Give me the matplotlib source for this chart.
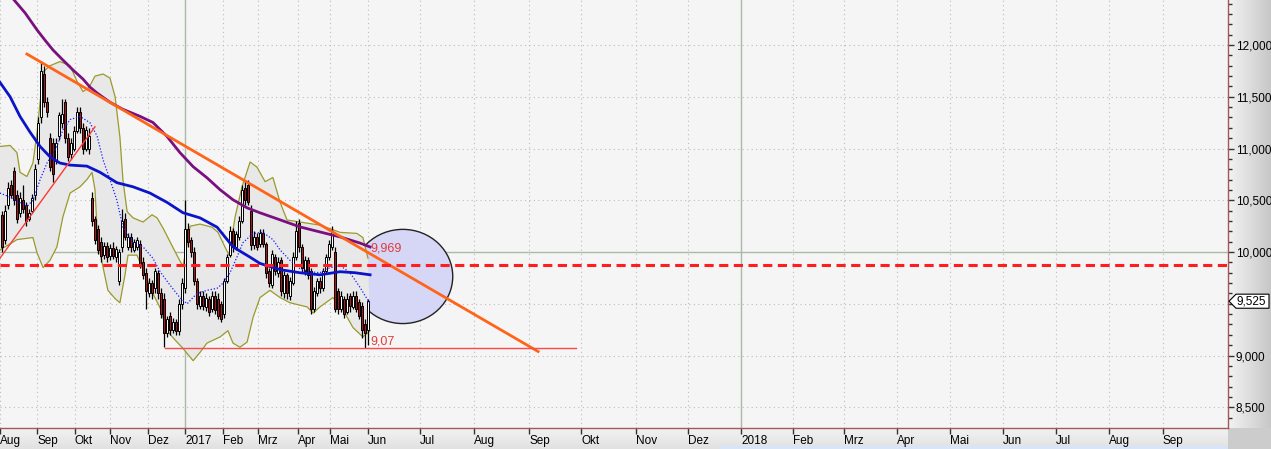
import matplotlib
matplotlib.use("Agg")
import matplotlib.pyplot as plt
import matplotlib.transforms as mtransforms
from matplotlib.patches import Ellipse, Polygon
import numpy as np

plt.rcParams['font.family'] = ['Liberation Sans', 'DejaVu Sans']

# --- Kursdaten (Tageskerzen, x = Handelstag-Index) ---
opens = [10.36, 10.12, 10.45, 10.65, 10.78, 10.55, 10.38, 10.50, 10.45, 10.32,
         10.40, 10.55, 10.90, 11.30, 11.72, 11.45, 11.10, 11.05, 10.88, 11.12,
         11.25, 11.45, 11.10, 10.95, 11.00, 11.17, 11.35, 11.20, 11.00, 11.00,
         10.52, 10.32, 10.22, 10.10, 9.97, 10.06, 9.96, 10.04, 9.95, 9.72,
         10.05, 10.32, 10.05, 10.15, 10.02, 10.05, 10.08, 9.90, 9.80, 9.60,
         9.70, 9.65, 9.80, 9.60, 9.55, 9.22, 9.38, 9.25, 9.32, 9.24,
         9.50, 9.65, 10.22, 10.12, 10.00, 9.72, 9.48, 9.58, 9.47, 9.55,
         9.45, 9.58, 9.55, 9.50, 9.40, 9.72, 9.97, 10.20, 10.05, 10.15,
         10.30, 10.62, 10.65, 10.40, 10.07, 10.15, 10.08, 10.18, 10.08, 9.82,
         9.68, 9.95, 9.80, 9.92, 9.60, 9.78, 9.58, 9.70, 9.95, 10.28,
         10.05, 9.82, 9.92, 9.82, 9.45, 9.60, 9.72, 9.65, 9.82, 9.95,
         10.05, 10.00, 9.62, 9.45, 9.55, 9.42, 9.58, 9.47, 9.58, 9.52,
         9.48, 9.30, 9.25]
highs = [10.40, 10.45, 10.68, 10.70, 10.82, 10.60, 10.58, 10.65, 10.48, 10.42,
         10.56, 10.85, 11.30, 11.85, 11.80, 11.50, 11.15, 11.10, 11.10, 11.35,
         11.48, 11.48, 11.15, 11.10, 11.22, 11.40, 11.40, 11.25, 11.22, 11.20,
         10.58, 10.35, 10.26, 10.15, 10.10, 10.10, 10.08, 10.10, 10.06, 10.03,
         10.42, 10.38, 10.18, 10.18, 10.13, 10.15, 10.12, 9.95, 9.85, 9.75,
         9.73, 9.85, 9.83, 9.65, 9.60, 9.38, 9.42, 9.36, 9.35, 9.55,
         9.75, 10.50, 10.28, 10.15, 10.05, 9.75, 9.62, 9.62, 9.60, 9.58,
         9.62, 9.62, 9.60, 9.53, 9.75, 9.98, 10.25, 10.23, 10.20, 10.35,
         10.65, 10.70, 10.70, 10.45, 10.20, 10.18, 10.22, 10.22, 10.10, 9.85,
         10.02, 9.98, 9.95, 9.95, 9.82, 9.80, 9.76, 10.00, 10.30, 10.32,
         10.08, 9.96, 9.95, 9.85, 9.66, 9.75, 9.76, 9.85, 9.98, 10.12,
         10.25, 10.05, 9.65, 9.62, 9.58, 9.60, 9.60, 9.62, 9.62, 9.55,
         9.52, 9.35, 9.55]
lows = [10.00, 10.08, 10.42, 10.52, 10.45, 10.28, 10.34, 10.38, 10.25, 10.30,
        10.38, 10.50, 10.85, 11.25, 11.40, 11.30, 10.78, 10.68, 10.85, 11.08,
        11.20, 11.05, 10.88, 10.90, 10.98, 11.15, 11.15, 10.95, 10.98, 10.95,
        10.25, 10.08, 9.98, 9.90, 9.93, 9.90, 9.92, 9.93, 9.90, 9.68,
        10.00, 10.12, 10.02, 10.00, 10.00, 10.02, 9.85, 9.74, 9.45, 9.57,
        9.55, 9.60, 9.55, 9.36, 9.08, 9.18, 9.20, 9.22, 9.20, 9.20,
        9.45, 9.60, 10.05, 9.95, 9.68, 9.45, 9.45, 9.44, 9.43, 9.38,
        9.42, 9.40, 9.35, 9.32, 9.36, 9.70, 9.95, 10.00, 10.02, 10.12,
        10.28, 10.45, 10.45, 10.02, 10.03, 10.02, 10.05, 10.05, 9.75, 9.66,
        9.65, 9.78, 9.76, 9.58, 9.56, 9.55, 9.54, 9.68, 9.92, 10.00,
        9.80, 9.78, 9.74, 9.40, 9.42, 9.58, 9.60, 9.62, 9.80, 9.92,
        10.02, 9.42, 9.40, 9.42, 9.36, 9.40, 9.42, 9.45, 9.42, 9.35,
        9.17, 9.07, 9.10]
closes = [10.05, 10.40, 10.62, 10.55, 10.50, 10.32, 10.52, 10.42, 10.30, 10.38,
          10.52, 10.80, 11.25, 11.75, 11.45, 11.35, 10.82, 10.75, 11.05, 11.32,
          11.33, 11.10, 10.92, 11.05, 11.17, 11.35, 11.20, 11.00, 11.18, 11.12,
          10.30, 10.12, 10.02, 9.96, 10.06, 9.95, 10.04, 9.96, 10.03, 10.00,
          10.30, 10.15, 10.15, 10.05, 10.10, 10.12, 9.88, 9.78, 9.62, 9.70,
          9.60, 9.82, 9.60, 9.40, 9.22, 9.35, 9.25, 9.32, 9.24, 9.50,
          9.70, 10.22, 10.10, 10.00, 9.72, 9.50, 9.58, 9.48, 9.56, 9.42,
          9.58, 9.44, 9.38, 9.35, 9.72, 9.95, 10.20, 10.05, 10.17, 10.30,
          10.60, 10.50, 10.48, 10.07, 10.15, 10.05, 10.18, 10.08, 9.80, 9.70,
          9.98, 9.82, 9.90, 9.62, 9.78, 9.60, 9.72, 9.95, 10.20, 10.05,
          9.85, 9.92, 9.78, 9.45, 9.62, 9.72, 9.65, 9.82, 9.95, 10.08,
          10.20, 9.45, 9.45, 9.58, 9.40, 9.55, 9.48, 9.58, 9.45, 9.38,
          9.25, 9.22, 9.525]

# --- Indikatoren ---
ma_blue_x = [-0.7, 2.7, 6, 9.3, 12.7, 16, 19.3, 22.7, 28.3, 32.7, 38.3, 43.7, 49.3,
             55, 60.3, 66, 71.7, 77, 82.7, 86, 92.7, 99.3, 106, 112.7, 117.7, 122.7]
ma_blue_y = [11.64, 11.50, 11.31, 11.16, 11.02, 10.92, 10.86, 10.84, 10.83, 10.77,
             10.67, 10.63, 10.57, 10.48, 10.38, 10.33, 10.24, 10.05, 9.95, 9.89,
             9.83, 9.80, 9.78, 9.81, 9.80, 9.78]

ma_purple_x = [3.3, 7.7, 11.7, 14.3, 17, 20.3, 23.7, 27, 29.3, 31.7, 36, 40.3, 46,
               50.3, 55, 59.3, 63.7, 68.3, 72.7, 77, 81.7, 86, 92.7, 99.3, 106,
               112.7, 119.3, 122.7]
ma_purple_y = [12.46, 12.31, 12.145, 12.048, 11.952, 11.855, 11.758, 11.671, 11.594,
               11.536, 11.447, 11.379, 11.311, 11.252, 11.117, 10.961, 10.825,
               10.718, 10.602, 10.505, 10.427, 10.379, 10.311, 10.243, 10.194,
               10.146, 10.087, 10.049]

ma_mid_x = [-0.7, 2.7, 8.3, 10.3, 12.7, 15, 18.3, 20.3, 22.7, 26, 29.3, 31.7, 33.7,
            36, 38.3, 40.3, 43.7, 47, 50.3, 52.7, 56, 59.3, 61.7, 65, 68.3, 71.7,
            73.7, 76, 78.3, 80.3, 83.7, 87, 90.3, 92.7, 96, 99.3, 102.7, 106,
            108.3, 112.7, 116, 119.3, 122.7]
ma_mid_y = [10.57, 10.53, 10.44, 10.50, 10.70, 10.86, 11.02, 11.18, 11.28, 11.31,
            11.25, 11.12, 10.89, 10.70, 10.50, 10.24, 10.09, 10.05, 9.94, 9.81,
            9.68, 9.56, 9.50, 9.60, 9.63, 9.65, 9.70, 9.80, 9.95, 10.09,
            10.18, 10.19, 10.12, 10.02, 9.92, 9.84, 9.81, 9.80, 9.84, 9.87,
            9.80, 9.66, 9.50]

bb_upper_x = [-0.7, 2.7, 5, 6, 8.3, 10.3, 11.7, 13.7, 16, 19.3, 22.7, 25, 27, 29, 31,
              33.7, 36, 37.7, 39.3, 40.3, 41.7, 43.7, 47, 50, 51.7, 53.7, 56, 58.3,
              60.3, 61.3, 62.7, 66, 70, 72, 74.3, 75.7, 77.7, 80, 82.7, 85, 87.7,
              90.3, 92.7, 95, 99.3, 106, 112.7, 118.3, 120.3, 122]
bb_upper_y = [11.02, 11.03, 10.96, 10.77, 10.73, 10.86, 11.16, 11.74, 11.80, 11.84,
              11.80, 11.65, 11.55, 11.59, 11.70, 11.72, 11.68, 11.50, 11.11, 10.70,
              10.39, 10.33, 10.29, 10.36, 10.33, 10.23, 10.10, 9.97, 9.86, 10.02,
              10.25, 10.27, 10.24, 10.19, 10.05, 9.97, 10.34, 10.63, 10.87, 10.82,
              10.68, 10.72, 10.48, 10.31, 10.29, 10.26, 10.19, 10.18, 10.14, 9.94]

bb_lower_x = [-0.7, 5, 10.3, 11.7, 13.7, 16, 18.3, 20.3, 22.7, 26, 28.3, 30, 31,
              31.7, 32.7, 33.7, 35.3, 37.7, 39.3, 41, 42, 45, 47, 50.3, 52.7, 55,
              57.7, 60.3, 63.7, 66, 68.3, 72.7, 75.3, 77, 79.3, 81.7, 83.7, 86,
              89.3, 92.7, 96, 101.7, 103.7, 106, 110.3, 113.7, 117, 120.3, 122.7]
bb_lower_y = [10.02, 10.12, 10.14, 9.99, 9.85, 9.92, 10.05, 10.34, 10.57, 10.63,
              10.70, 10.77, 10.60, 10.21, 9.99, 9.85, 9.63, 9.55, 9.51, 9.78,
              9.97, 9.97, 9.83, 9.60, 9.46, 9.24, 9.15, 9.07, 8.95, 9.03,
              9.12, 9.18, 9.24, 9.12, 9.08, 9.13, 9.37, 9.56, 9.63, 9.56,
              9.51, 9.47, 9.41, 9.47, 9.56, 9.44, 9.27, 9.18, 9.24]

# Trendlinien / Marken
trend_down_x = [8.3, 178.7]
trend_down_y = [11.913, 9.039]
trend_up_x = [-0.7, 31]
trend_up_y = [9.94, 11.21]
support_x = [54.3, 191.3]
support_y = [9.07, 9.07]
resist_level = 9.874
round_level = 10.0
circle_center = (133.6, 9.764)
circle_size = (33.3, 0.91)
label_hi = "9,969"
label_lo = "9,07"
last_price = 9.525

# Achsenbeschriftung
month_pos = [-0.6, 11.67, 24.33, 36, 48.67, 61, 73.67, 85.33, 98.67, 109.33, 122,
             139.33, 157.33, 175.67, 193, 211.33, 228.67, 246.33, 263.67, 280.67,
             298.33, 316, 333.67, 351.33, 369, 387]
month_labels = ["Aug", "Sep", "Okt", "Nov", "Dez", "2017", "Feb", "Mrz", "Apr", "Mai",
                "Jun", "Jul", "Aug", "Sep", "Okt", "Nov", "Dez", "2018", "Feb", "Mrz",
                "Apr", "Mai", "Jun", "Jul", "Aug", "Sep"]
year_pos = [61, 246.33]
y_major = [8.5, 9.0, 9.5, 10.0, 10.5, 11.0, 11.5, 12.0]

W, H = 1271, 449
fig = plt.figure(figsize=(W / 100, H / 100), dpi=100)

# Hintergrund: graue Verlaeufe rechts und unten
bg = fig.add_axes([0, 0, 1, 1], zorder=-10)
img = np.ones((H, W, 3)) * 0.96
xr = np.arange(W)
yr = np.arange(H)
right = xr >= 1228
t = (xr[right] - 1228) / (W - 1228)
img[:428, right, :] = (0.95 - 0.17 * t)[None, :, None]
tb = (yr[428:] - 428) / (H - 428)
img[428:, :1228, :] = (0.95 - 0.07 * tb)[:, None, None]
img[428:, right, :] = 0.8
img[446:, 720:1228, :] = [0.84, 0.9, 0.98]
bg.imshow(img, extent=[0, W, H, 0], aspect='auto', interpolation='nearest')
bg.set_xlim(0, W)
bg.set_ylim(H, 0)
bg.axis('off')

ax = fig.add_axes([0, 1 - 428 / H, 1228 / W, 428 / H])
ax.set_facecolor('#f5f5f5')
ax.set_xlim(-0.67, 408.67)
ax.set_ylim(8.30, 12.435)

# Gitter
for yv in y_major:
    if yv != round_level:
        ax.axhline(yv, color='#bcbcbc', lw=0.8, ls=(0, (1, 3)), zorder=0.5)
for xv in month_pos:
    ax.axvline(xv, color='#bcbcbc', lw=0.8, ls=(0, (1, 3)), zorder=0.5)
for xv in year_pos:
    ax.axvline(xv, color='#aabaa8', lw=1.0, zorder=0.6)
ax.axhline(round_level, color='#aabaa8', lw=1.0, zorder=0.6)

# Kreis
ax.add_patch(Ellipse(circle_center, circle_size[0], circle_size[1],
                     facecolor='#d6d6f6', edgecolor='#222222', lw=1.0, zorder=1))

# Bollinger-Baender
band_x = list(bb_upper_x) + list(bb_lower_x[::-1])
band_y = list(bb_upper_y) + list(bb_lower_y[::-1])
ax.fill(band_x, band_y, color='#e8e8e8', lw=0, zorder=1.2)
ax.plot(bb_upper_x, bb_upper_y, color='#9a9a2a', lw=0.9, zorder=1.5)
ax.plot(bb_lower_x, bb_lower_y, color='#9a9a2a', lw=0.9, zorder=1.5)

# Kerzen
o = np.array(opens)
hi = np.array(highs)
lo = np.array(lows)
c = np.array(closes)
x = np.arange(len(c))
ax.vlines(x, lo, hi, color='black', lw=0.9, zorder=2)
body_bottom = np.minimum(o, c)
body_h = np.maximum(np.abs(c - o), 0.012)
colors = np.where(c >= o, 'white', '#a81818')
ax.bar(x, body_h, bottom=body_bottom, width=0.9, color=colors,
       edgecolor='black', linewidth=0.7, zorder=2.1)

# Gleitende Durchschnitte
ax.plot(ma_mid_x, ma_mid_y, color='#1a1aff', lw=0.9, ls=(0, (1, 1.5)), zorder=3)
ax.plot(ma_blue_x, ma_blue_y, color='#0a14c8', lw=2.0, zorder=3.2)
ax.plot(ma_purple_x, ma_purple_y, color='#7a1080', lw=2.0, zorder=3.2)

# Trendlinien
ax.plot(trend_down_x, trend_down_y, color='#ff6418', lw=2.0, zorder=4)
ax.plot(trend_up_x, trend_up_y, color='#ff3838', lw=1.0, zorder=4)
ax.plot(support_x, support_y, color='#ff4848', lw=1.0, zorder=4)
ax.axhline(resist_level, color='#ff1e1e', lw=2.2, ls=(0, (3, 1.8)), zorder=4.5)

ax.text(122.7, 10.03, label_hi, color='#e03c3c', fontsize=9, va='center', ha='left', zorder=5)
ax.text(122.7, 9.14, label_lo, color='#e03c3c', fontsize=9, va='center', ha='left', zorder=5)

# Achsen
for side in ['left', 'top']:
    ax.spines[side].set_visible(False)
for side in ['right', 'bottom']:
    ax.spines[side].set_color('#a05a5a')
    ax.spines[side].set_linewidth(1.0)

ax.yaxis.tick_right()
ax.set_yticks(y_major)
# 9,500 wird von der Kursmarke verdeckt
ax.set_yticklabels(["" if abs(v - last_price) < 0.1 else f"{v:.3f}".replace('.', ',')
                    for v in y_major])
ax.set_yticks(np.arange(8.4, 12.41, 0.1), minor=True)
ax.tick_params(axis='y', which='major', length=4, width=1, color='#333333',
               labelsize=8.5, pad=1.5)
ax.tick_params(axis='y', which='minor', length=3, width=1, color='#333333')

ax.set_xticks(month_pos)
ax.set_xticklabels(month_labels)
for lbl in ax.get_xticklabels():
    lbl.set_horizontalalignment('left')
ax.tick_params(axis='x', length=4, width=1, color='#333333', labelsize=8.5, pad=1)

# Kursmarke am rechten Rand
tr = mtransforms.blended_transform_factory(fig.transFigure, ax.transData)
dy = 0.068
tag = Polygon([(1229 / W, last_price), (1236 / W, last_price + dy), (1269 / W, last_price + dy),
               (1269 / W, last_price - dy), (1236 / W, last_price - dy)],
              closed=True, facecolor='white', edgecolor='black', lw=0.8,
              transform=tr, clip_on=False, zorder=10)
ax.add_patch(tag)
ax.text(1236.5 / W, last_price, f"{last_price:.3f}".replace('.', ','), transform=tr,
        fontsize=8.5, va='center', ha='left', zorder=11, clip_on=False)

fig.savefig('out.png', dpi=100)
